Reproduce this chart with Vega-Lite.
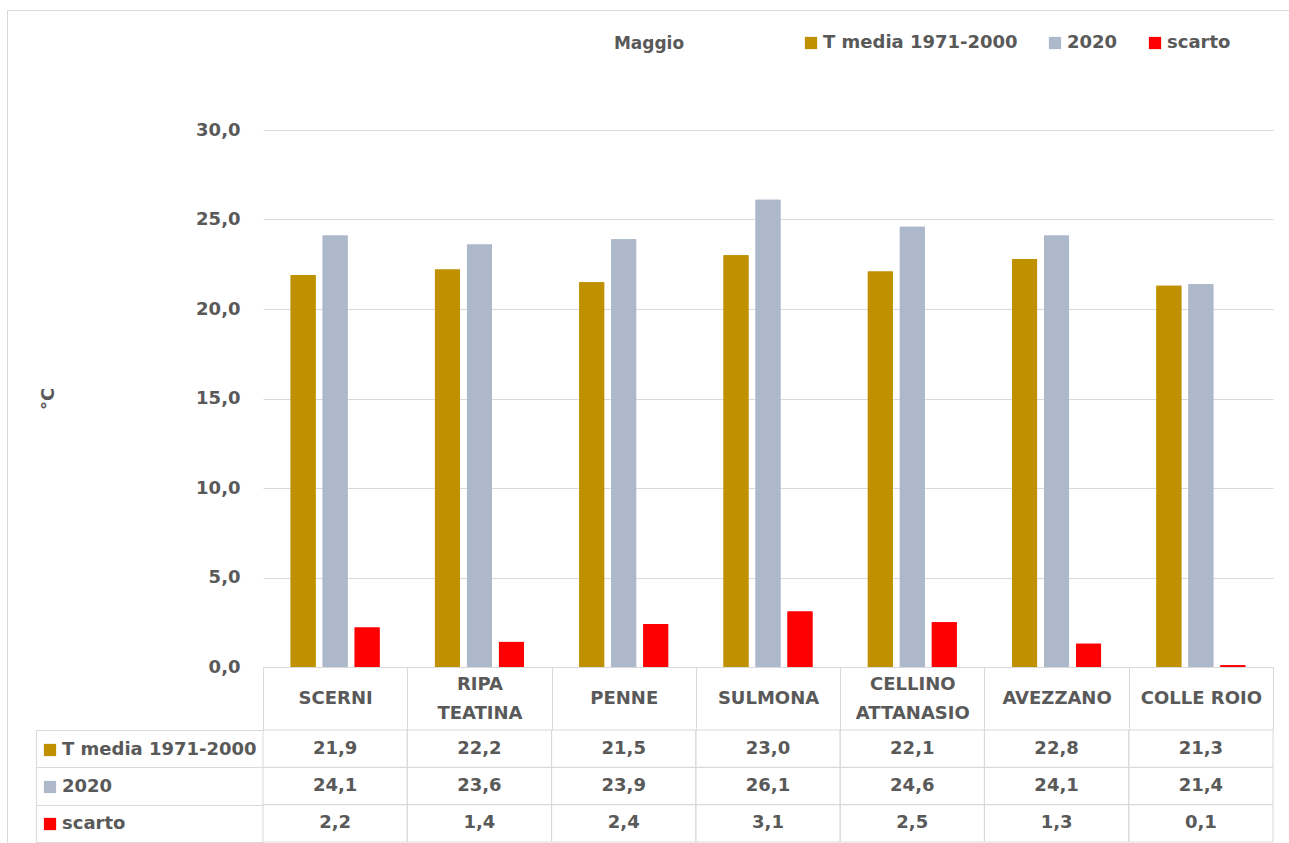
{
  "$schema": "https://vega.github.io/schema/vega-lite/v6.json",
  "autosize": {"type": "none"},
  "padding": {"left": 7, "top": 10, "right": 0, "bottom": 0},
  "width": 1284,
  "height": 840,
  "config": {
    "locale": {"number": {"decimal": ",", "thousands": ".", "grouping": [3], "currency": ["€", ""]}},
    "font": "DejaVu Sans",
    "view": {"stroke": "#D9D9D9", "strokeWidth": 1},
    "axis": {
      "labelFont": "DejaVu Sans",
      "labelFontWeight": "bold",
      "labelFontSize": 18,
      "labelColor": "#595959",
      "titleFont": "DejaVu Sans",
      "titleFontWeight": "bold",
      "titleFontSize": 18,
      "titleColor": "#595959"
    },
    "legend": {
      "labelFont": "DejaVu Sans",
      "labelFontWeight": "bold",
      "labelFontSize": 18,
      "labelColor": "#595959",
      "labelLimit": 400,
      "symbolType": "square",
      "symbolSize": 150,
      "symbolStrokeWidth": 0,
      "labelOffset": 3,
      "padding": 0
    }
  },
  "title": {
    "text": "Maggio",
    "anchor": "middle",
    "frame": "group",
    "offset": -51,
    "baseline": "middle",
    "font": "DejaVu Sans",
    "fontSize": 17,
    "fontWeight": "bold",
    "color": "#595959"
  },
  "datasets": {
    "temperature": [
      {"stazione": "SCERNI", "serie": "T media 1971-2000", "valore": 21.9},
      {"stazione": "RIPA TEATINA", "serie": "T media 1971-2000", "valore": 22.2},
      {"stazione": "PENNE", "serie": "T media 1971-2000", "valore": 21.5},
      {"stazione": "SULMONA", "serie": "T media 1971-2000", "valore": 23.0},
      {"stazione": "CELLINO ATTANASIO", "serie": "T media 1971-2000", "valore": 22.1},
      {"stazione": "AVEZZANO", "serie": "T media 1971-2000", "valore": 22.8},
      {"stazione": "COLLE ROIO", "serie": "T media 1971-2000", "valore": 21.3},
      {"stazione": "SCERNI", "serie": "2020", "valore": 24.1},
      {"stazione": "RIPA TEATINA", "serie": "2020", "valore": 23.6},
      {"stazione": "PENNE", "serie": "2020", "valore": 23.9},
      {"stazione": "SULMONA", "serie": "2020", "valore": 26.1},
      {"stazione": "CELLINO ATTANASIO", "serie": "2020", "valore": 24.6},
      {"stazione": "AVEZZANO", "serie": "2020", "valore": 24.1},
      {"stazione": "COLLE ROIO", "serie": "2020", "valore": 21.4},
      {"stazione": "SCERNI", "serie": "scarto", "valore": 2.2},
      {"stazione": "RIPA TEATINA", "serie": "scarto", "valore": 1.4},
      {"stazione": "PENNE", "serie": "scarto", "valore": 2.4},
      {"stazione": "SULMONA", "serie": "scarto", "valore": 3.1},
      {"stazione": "CELLINO ATTANASIO", "serie": "scarto", "valore": 2.5},
      {"stazione": "AVEZZANO", "serie": "scarto", "valore": 1.3},
      {"stazione": "COLLE ROIO", "serie": "scarto", "valore": 0.1}
    ]
  },
  "data": {"name": "temperature"},
  "layer": [
    {
      "layer": [
        {
          "mark": {"type": "bar"},
          "encoding": {
            "x": {
              "field": "stazione",
              "type": "nominal",
              "sort": null,
              "scale": {"range": [256, 1266], "paddingInner": 0, "paddingOuter": 0},
              "axis": {
                "orient": "bottom",
                "offset": -183,
                "title": null,
                "domain": true,
                "domainColor": "#D9D9D9",
                "ticks": true,
                "tickBand": "extent",
                "tickSize": 63,
                "tickColor": "#D9D9D9",
                "labelAngle": 0,
                "labelBaseline": "middle",
                "labelPadding": {
                  "condition": {"test": "indexof(['RIPA TEATINA', 'CELLINO ATTANASIO'], datum.value) >= 0", "value": -46},
                  "value": -32
                },
                "labelLineHeight": 29,
                "labelOverlap": false,
                "labelExpr": "indexof(['RIPA TEATINA', 'CELLINO ATTANASIO'], datum.value) >= 0 ? split(datum.value, ' ') : datum.value"
              }
            },
            "xOffset": {
              "field": "serie",
              "type": "nominal",
              "sort": null,
              "scale": {"domain": ["T media 1971-2000", "2020", "scarto"], "paddingInner": 0.22, "paddingOuter": 0.865}
            },
            "y": {
              "field": "valore",
              "type": "quantitative",
              "scale": {"domain": [0, 30], "range": [657, 120], "nice": false},
              "axis": {
                "orient": "left",
                "offset": -256,
                "values": [0, 5, 10, 15, 20, 25, 30],
                "format": ".1f",
                "grid": true,
                "gridColor": "#D9D9D9",
                "domain": false,
                "ticks": false,
                "labelPadding": 23,
                "title": "°C",
                "titleX": -215,
                "titleBaseline": "middle"
              }
            },
            "color": {
              "field": "serie",
              "type": "nominal",
              "sort": null,
              "scale": {"range": ["#BF9000", "#ADB9CA", "#FF0000"]},
              "legend": {
                "orient": "none",
                "direction": "horizontal",
                "legendX": 795,
                "legendY": 24,
                "title": null,
                "columnPadding": 28
              }
            }
          }
        },
        {
          "mark": {"type": "bar"},
          "encoding": {
            "x": {"field": "stazione", "type": "nominal", "sort": null},
            "xOffset": {"field": "serie", "type": "nominal", "sort": null},
            "y": {"field": "valore", "type": "quantitative"},
            "fill": {
              "field": "serie",
              "type": "nominal",
              "sort": null,
              "scale": {"domain": ["T media 1971-2000", "2020", "scarto"], "range": ["#BF9000", "#ADB9CA", "#FF0000"]},
              "legend": {
                "orient": "none",
                "direction": "vertical",
                "legendX": 34,
                "legendY": 731,
                "title": null,
                "rowPadding": 19
              }
            }
          }
        }
      ]
    },
    {
      "layer": [
        {
          "mark": {"type": "rect", "fill": "white", "fillOpacity": 0, "stroke": "#D9D9D9", "strokeWidth": 1},
          "encoding": {
            "x": {"field": "stazione", "type": "nominal", "sort": null},
            "y": {
              "field": "serie",
              "type": "nominal",
              "sort": null,
              "scale": {"domain": ["T media 1971-2000", "2020", "scarto"], "range": [720, 832], "paddingInner": 0, "paddingOuter": 0},
              "axis": {
                "orient": "left",
                "offset": -29,
                "title": null,
                "labels": false,
                "grid": false,
                "domain": true,
                "domainColor": "#D9D9D9",
                "ticks": true,
                "tickBand": "extent",
                "tickSize": -227,
                "tickColor": "#D9D9D9"
              }
            }
          }
        },
        {
          "mark": {"type": "text", "font": "DejaVu Sans", "fontWeight": "bold", "fontSize": 18, "color": "#595959"},
          "encoding": {
            "x": {"field": "stazione", "type": "nominal", "sort": null},
            "y": {"field": "serie", "type": "nominal", "sort": null},
            "text": {"field": "valore", "type": "quantitative", "format": ".1f"}
          }
        }
      ]
    }
  ],
  "resolve": {"scale": {"y": "independent"}, "axis": {"y": "independent"}}
}
